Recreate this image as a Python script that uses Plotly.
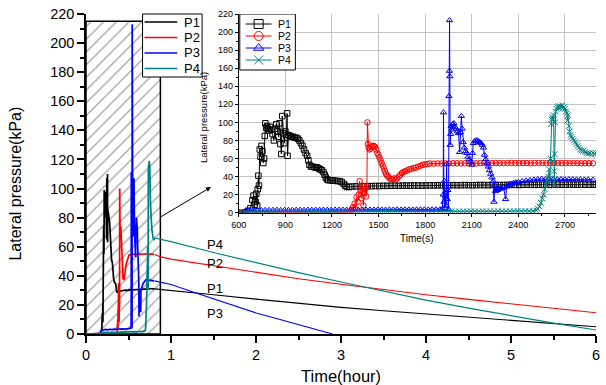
import plotly.graph_objects as go

# ---- monitoring records, time in seconds, lateral pressure in kPa ----
P1_REC = [
    (0, 0), (600, 0), (640, 0.5), (660, 2), (675, 5), (688, 14), (695, 19), (702, 9), (708, 12),
    (713, 21), (718, 8), (722, 26), (726, 41), (730, 30), (735, 70), (740, 62), (746, 74), (752, 68),
    (758, 55), (763, 60), (767, 85), (771, 99), (776, 94), (782, 96), (788, 93), (795, 91), (802, 95),
    (810, 92), (818, 87), (826, 80), (834, 93), (842, 98), (850, 90), (856, 84), (862, 99), (868, 76),
    (874, 65), (880, 107), (886, 88), (893, 77), (900, 90), (906, 86), (911, 110), (914, 63), (920, 86),
    (930, 85), (940, 84), (950, 84), (960, 83), (970, 83), (980, 82), (990, 80), (1000, 77), (1010, 74),
    (1020, 70), (1030, 66), (1040, 63), (1048, 58), (1055, 53), (1065, 51), (1075, 51), (1085, 50.5),
    (1095, 50), (1105, 50), (1115, 49), (1125, 48), (1135, 47), (1145, 45), (1153, 42), (1160, 39),
    (1168, 37), (1176, 36), (1190, 36), (1205, 35.5), (1220, 35.5), (1235, 35), (1250, 35), (1262, 34),
    (1275, 32), (1285, 30), (1295, 28.5), (1310, 28.5), (1330, 29.0), (1355, 29.2), (1380, 29.0),
    (1405, 29.3), (1430, 29.5), (1455, 29.4), (1480, 29.6), (1505, 29.5), (1530, 29.8), (1555, 29.7),
    (1580, 29.9), (1605, 30.0), (1630, 29.8), (1655, 30.0), (1680, 30.1), (1705, 30.0), (1730, 30.2),
    (1755, 30.1), (1780, 30.0), (1805, 30.2), (1830, 30.3), (1855, 30.2), (1880, 30.4), (1905, 30.3),
    (1930, 30.2), (1955, 30.4), (1980, 30.5), (2005, 30.4), (2030, 30.5), (2055, 30.6), (2080, 30.5),
    (2105, 30.4), (2130, 30.6), (2155, 30.7), (2180, 30.6), (2205, 30.5), (2230, 30.7), (2255, 30.8),
    (2280, 30.6), (2305, 30.7), (2330, 30.8), (2355, 30.9), (2380, 30.8), (2405, 30.7), (2430, 30.9),
    (2455, 31.0), (2480, 30.9), (2505, 30.8), (2530, 31.0), (2555, 31.1), (2580, 31.0), (2605, 30.9),
    (2630, 31.1), (2655, 31.2), (2680, 31.0), (2705, 31.1), (2730, 31.2), (2755, 31.1), (2780, 31.0),
    (2805, 31.2), (2830, 31.1), (2855, 31.0), (2880, 31.1), (2900, 31.0),
]

P2_REC = [
    (0, 0), (600, 0), (1300, 0), (1325, 3), (1335, 6), (1345, 10), (1352, 4), (1358, 17), (1365, 12),
    (1372, 20), (1378, 35), (1384, 24), (1390, 16), (1396, 30), (1402, 8), (1408, 22), (1414, 26),
    (1420, 18), (1425, 29), (1428, 100), (1431, 76), (1436, 72), (1442, 70), (1448, 71), (1455, 73),
    (1462, 74), (1470, 74), (1478, 73), (1485, 70), (1492, 66), (1499, 64), (1506, 61), (1513, 58),
    (1520, 55), (1527, 52), (1534, 49), (1541, 46), (1548, 43), (1555, 41), (1562, 40), (1570, 38),
    (1580, 37.5), (1590, 37), (1600, 38), (1610, 37), (1620, 38), (1630, 40), (1640, 42), (1650, 44),
    (1660, 45), (1672, 46), (1685, 47), (1698, 48), (1712, 48.5), (1726, 49.5), (1740, 50), (1755, 51),
    (1770, 52), (1785, 53), (1800, 53.5), (1815, 54), (1830, 54.5), (1855, 54.3), (1880, 54.6),
    (1905, 54.5), (1930, 54.7), (1955, 54.6), (1980, 54.8), (2005, 54.7), (2030, 54.6), (2055, 54.8),
    (2080, 54.9), (2105, 54.7), (2130, 54.8), (2155, 54.9), (2180, 55.0), (2205, 54.8), (2230, 54.9),
    (2255, 55.0), (2280, 54.9), (2305, 54.8), (2330, 55.0), (2355, 55.1), (2380, 54.9), (2405, 55.0),
    (2430, 55.1), (2455, 55.0), (2480, 54.9), (2505, 55.0), (2530, 55.1), (2555, 55.0), (2580, 54.9),
    (2605, 55.0), (2630, 55.1), (2655, 55.0), (2680, 54.9), (2705, 55.0), (2730, 54.9), (2755, 55.0),
    (2780, 54.9), (2805, 54.8), (2830, 54.9), (2855, 54.8), (2880, 54.7),
]

P3_REC = [
    (0, 0), (600, 0), (645, 2.5), (670, 2.8), (695, 2.7), (720, 2.9), (745, 2.8), (770, 3.0), (795, 2.9),
    (820, 3.0), (845, 3.1), (870, 2.9), (895, 3.0), (920, 3.1), (945, 3.0), (970, 3.2), (995, 3.1),
    (1020, 3.0), (1045, 3.2), (1070, 3.1), (1095, 3.2), (1120, 3.1), (1145, 3.3), (1170, 3.2),
    (1195, 3.1), (1220, 3.3), (1245, 3.2), (1270, 3.3), (1295, 3.2), (1320, 3.4), (1345, 3.3),
    (1370, 3.2), (1395, 3.4), (1420, 3.3), (1445, 3.4), (1470, 3.3), (1495, 3.5), (1520, 3.4),
    (1545, 3.3), (1570, 3.5), (1595, 3.4), (1620, 3.5), (1645, 3.4), (1670, 3.6), (1695, 3.5),
    (1720, 3.4), (1745, 3.6), (1770, 3.5), (1795, 3.6), (1820, 3.5), (1845, 3.7), (1870, 3.6),
    (1895, 3.7), (1910, 4), (1916, 20), (1918, 111), (1921, 12), (1924, 35), (1927, 5), (1930, 19),
    (1934, 8), (1938, 54), (1942, 15), (1946, 25), (1950, 4), (1953, 129), (1956, 157), (1957, 213),
    (1959, 151), (1961, 75), (1964, 87), (1968, 96), (1972, 92), (1978, 98), (1985, 99), (1992, 95),
    (2000, 93), (2008, 90), (2015, 88), (2022, 67), (2027, 89), (2033, 107), (2038, 93), (2045, 78),
    (2052, 72), (2060, 68), (2068, 66), (2076, 62), (2084, 59), (2092, 56), (2100, 53), (2105, 66),
    (2110, 77), (2118, 79), (2126, 80), (2135, 80), (2143, 79), (2152, 78), (2160, 77), (2168, 75),
    (2175, 72), (2182, 64), (2190, 59), (2198, 55), (2206, 51), (2214, 47), (2222, 43), (2230, 39),
    (2238, 35), (2243, 12), (2248, 30), (2253, 24), (2258, 26), (2265, 25), (2275, 26), (2285, 27),
    (2295, 27), (2305, 28), (2318, 15), (2325, 29), (2335, 30), (2345, 31), (2355, 32), (2370, 33),
    (2385, 33.5), (2400, 34), (2425, 35), (2450, 35.5), (2475, 36), (2500, 36.5), (2525, 37),
    (2550, 37.5), (2575, 37.0), (2600, 37.2), (2625, 37.0), (2650, 36.9), (2675, 37.1), (2700, 36.8),
    (2725, 37.0), (2750, 36.9), (2775, 36.7), (2800, 36.8), (2825, 36.6), (2850, 36.7), (2880, 36.5),
]

P4_REC = [
    (0, 0), (600, 0), (645, 0.8), (670, 1.0), (695, 0.9), (720, 1.0), (745, 1.1), (770, 0.9),
    (795, 1.0), (820, 1.1), (845, 1.0), (870, 1.1), (895, 1.0), (920, 1.2), (945, 1.1), (970, 1.0),
    (995, 1.2), (1020, 1.1), (1045, 1.2), (1070, 1.1), (1095, 1.2), (1120, 1.0), (1145, 1.2),
    (1170, 1.1), (1195, 1.3), (1220, 1.2), (1245, 1.1), (1270, 1.3), (1295, 1.2), (1320, 1.3),
    (1345, 1.2), (1370, 1.3), (1395, 1.2), (1420, 1.4), (1445, 1.3), (1470, 1.2), (1495, 1.4),
    (1520, 1.3), (1545, 1.4), (1570, 1.3), (1595, 1.4), (1620, 1.3), (1645, 1.5), (1670, 1.4),
    (1695, 1.3), (1720, 1.5), (1745, 1.4), (1770, 1.5), (1795, 1.4), (1820, 1.5), (1845, 1.4),
    (1870, 1.6), (1895, 1.5), (1920, 1.4), (1945, 1.6), (1970, 1.5), (1995, 1.6), (2020, 1.5),
    (2045, 1.6), (2070, 1.5), (2095, 1.7), (2120, 1.6), (2145, 1.5), (2170, 1.7), (2195, 1.6),
    (2220, 1.7), (2245, 1.6), (2270, 1.8), (2295, 1.7), (2320, 1.6), (2345, 1.8), (2370, 1.7),
    (2395, 1.8), (2420, 1.7), (2445, 1.9), (2470, 1.8), (2495, 2.0), (2515, 2.5), (2525, 4.5),
    (2535, 7), (2545, 11), (2555, 16), (2562, 20), (2570, 26), (2578, 30), (2585, 35), (2592, 40),
    (2598, 48), (2603, 38), (2607, 60), (2611, 98), (2615, 103), (2619, 106), (2623, 104), (2627, 108),
    (2630, 46), (2632, 30), (2634, 65), (2637, 100), (2641, 112), (2646, 115), (2652, 117), (2658, 118),
    (2664, 116), (2670, 118), (2676, 117), (2682, 119), (2688, 116), (2694, 117), (2700, 115),
    (2706, 112), (2712, 110), (2716, 102), (2720, 108), (2725, 96), (2730, 90), (2736, 86), (2742, 84),
    (2750, 82), (2758, 80), (2766, 78), (2774, 76), (2782, 74), (2790, 72), (2798, 70), (2806, 69),
    (2814, 68), (2822, 69), (2830, 67), (2840, 66), (2850, 65.5), (2860, 66), (2870, 64.5), (2880, 66),
    (2890, 65), (2900, 66),
]

# ---- long-term dissipation, time in hours, lateral pressure in kPa ----
P1_DECAY_H = [0.806, 1.0, 1.5, 2.0, 2.5, 3.0, 3.5, 4.0, 4.5, 5.0, 5.5, 6.0]
P1_DECAY_V = [31, 30, 27, 24, 21, 18.3, 16, 13.7, 11.4, 9.2, 7, 5]
P2_DECAY_H = [0.806, 0.88, 1.0, 1.5, 2.0, 2.5, 3.0, 3.5, 4.0, 4.5, 5.0, 5.5, 6.0]
P2_DECAY_V = [54.7, 53, 51.5, 47, 42.5, 38, 34.2, 30.5, 27, 23.8, 20.6, 17.6, 14.6]
P3_DECAY_H = [0.806, 0.95, 1.0, 1.25, 1.5, 1.75, 2.0, 2.25, 2.5, 2.75, 2.9]
P3_DECAY_V = [36.5, 35, 34, 29, 24, 19, 14.5, 10.5, 6.5, 2.5, 0]
P4_DECAY_H = [0.806, 0.88, 1.0, 1.5, 2.0, 2.5, 3.0, 3.5, 4.0, 4.5, 5.0, 5.5, 6.0]
P4_DECAY_V = [66, 65, 63.5, 56, 49, 42.2, 35.8, 29.6, 23.3, 17.8, 12.5, 7.5, 2.7]

NAMES = ["P1", "P2", "P3", "P4"]
COLORS = ["#000000", "#ff0000", "#0000ff", "#008080"]
SYMBOLS = ["square-open", "circle-open", "triangle-up-open", "x-thin-open"]
RECORDS = [P1_REC, P2_REC, P3_REC, P4_REC]
DECAY = [(P1_DECAY_H, P1_DECAY_V), (P2_DECAY_H, P2_DECAY_V),
         (P3_DECAY_H, P3_DECAY_V), (P4_DECAY_H, P4_DECAY_V)]

# enlarged window (hours, kPa) shown in the inset
WIN_H = 0.875
WIN_KPA = 215

# curve labels on the dissipation part (hours, kPa)
LABEL_X = 1.52
LABEL_Y = {"P4": 61.5, "P2": 48.6, "P1": 31, "P3": 14.2}

FONT = "Liberation Sans, Arial, sans-serif"

# ---- page geometry (pixels) ----
W, H = 606, 385
ML, MR, MT, MB = 86, 6, 14, 51
PW, PH = W - ML - MR, H - MT - MB
INSET_X = (0.2996, 1.0)
INSET_Y = (0.379, 1.0)
X2_RANGE = (600, 2900)
Y2_RANGE = (0, 220)


def paper_x(px):
    return (px - ML) / PW


def paper_y(py):
    return (H - MB - py) / PH


def inset_x(px):
    x0 = ML + INSET_X[0] * PW
    x1 = ML + INSET_X[1] * PW
    return X2_RANGE[0] + (px - x0) / (x1 - x0) * (X2_RANGE[1] - X2_RANGE[0])


def inset_y(py):
    y0 = H - MB - INSET_Y[0] * PH
    y1 = H - MB - INSET_Y[1] * PH
    return Y2_RANGE[0] + (y0 - py) / (y0 - y1) * (Y2_RANGE[1] - Y2_RANGE[0])


fig = go.Figure()

# hatched zoom window
fig.add_trace(go.Scatter(
    x=[0, WIN_H, WIN_H, 0, 0], y=[0, 0, WIN_KPA, WIN_KPA, 0],
    mode="lines", fill="toself", fillcolor="white",
    fillpattern=dict(shape="/", fgcolor="#444444", bgcolor="white", size=9, solidity=0.14),
    line=dict(color="black", width=1.5), showlegend=False, hoverinfo="skip",
))

# main panel: full records in hours
for name, color, rec, (dh, dv) in zip(NAMES, COLORS, RECORDS, DECAY):
    t = [p[0] / 3600.0 for p in rec]
    v = [p[1] for p in rec]
    fig.add_trace(go.Scatter(x=t, y=v, mode="lines", name=name, showlegend=False,
                             line=dict(color=color, width=1.7)))
    fig.add_trace(go.Scatter(x=dh, y=dv, mode="lines", name=name, showlegend=False,
                             line=dict(color=color, width=1.1)))

# inset: early records in seconds
for name, color, sym, rec in zip(NAMES, COLORS, SYMBOLS, RECORDS):
    t = [p[0] for p in rec]
    v = [p[1] for p in rec]
    fig.add_trace(go.Scatter(
        x=t, y=v, mode="lines+markers", name=name, showlegend=False,
        xaxis="x2", yaxis="y2", cliponaxis=True,
        line=dict(color=color, width=1),
        marker=dict(symbol=sym, size=5.5, color=color, line=dict(color=color, width=1)),
    ))

shapes = []
annotations = []

# ---- legend of the main panel ----
MAIN_LEG_BOX = (143, 14, 203, 77)
MAIN_LEG_ROWS = [22, 37.5, 53, 68.5]
MAIN_LEG_LINE = (145, 178)
MAIN_LEG_TEXT_X = 183
shapes.append(dict(type="rect", xref="paper", yref="paper", layer="above",
                   x0=paper_x(MAIN_LEG_BOX[0]), x1=paper_x(MAIN_LEG_BOX[2]),
                   y0=paper_y(MAIN_LEG_BOX[3]), y1=paper_y(MAIN_LEG_BOX[1]),
                   fillcolor="white", line=dict(color="black", width=1)))
for name, color, row in zip(NAMES, COLORS, MAIN_LEG_ROWS):
    shapes.append(dict(type="line", xref="paper", yref="paper", layer="above",
                       x0=paper_x(MAIN_LEG_LINE[0]), x1=paper_x(MAIN_LEG_LINE[1]),
                       y0=paper_y(row), y1=paper_y(row), line=dict(color=color, width=1.6)))
    annotations.append(dict(text=name, xref="paper", yref="paper", x=paper_x(MAIN_LEG_TEXT_X),
                            y=paper_y(row), xanchor="left", yanchor="middle", showarrow=False,
                            font=dict(size=13)))

# ---- legend of the inset ----
INS_LEG_BOX = (241, 14, 297, 70)
INS_LEG_ROWS = [24, 36, 48, 60]
INS_LEG_LINE = (247, 273)
INS_LEG_TEXT_X = 277
shapes.append(dict(type="rect", xref="x2", yref="y2", layer="between",
                   x0=inset_x(INS_LEG_BOX[0]), x1=inset_x(INS_LEG_BOX[2]),
                   y0=inset_y(INS_LEG_BOX[3]), y1=inset_y(INS_LEG_BOX[1]),
                   fillcolor="white", line=dict(color="black", width=1)))
for name, color, sym, row in zip(NAMES, COLORS, SYMBOLS, INS_LEG_ROWS):
    shapes.append(dict(type="line", xref="x2", yref="y2", layer="between",
                       x0=inset_x(INS_LEG_LINE[0]), x1=inset_x(INS_LEG_LINE[1]),
                       y0=inset_y(row), y1=inset_y(row), line=dict(color=color, width=1)))
    fig.add_trace(go.Scatter(
        x=[inset_x((INS_LEG_LINE[0] + INS_LEG_LINE[1]) / 2)], y=[inset_y(row)],
        mode="markers", xaxis="x2", yaxis="y2", showlegend=False, hoverinfo="skip",
        cliponaxis=False,
        marker=dict(symbol=sym, size=9, color=color, line=dict(color=color, width=1)),
    ))
    annotations.append(dict(text=name, xref="paper", yref="paper", x=paper_x(INS_LEG_TEXT_X),
                            y=paper_y(row), xanchor="left", yanchor="middle", showarrow=False,
                            font=dict(size=10.5)))

axis_common = dict(showline=True, linecolor="black", zeroline=False, ticks="outside",
                   tickcolor="black", color="black")

fig.update_layout(
    width=W, height=H,
    margin=dict(l=ML, r=MR, t=MT, b=MB),
    paper_bgcolor="white", plot_bgcolor="white",
    showlegend=False,
    font=dict(family=FONT, color="black"),
    xaxis=dict(**axis_common, domain=[0, 1], anchor="y", range=[0, 6], tick0=0, dtick=1,
               showgrid=False, linewidth=1.5, ticklen=7, tickwidth=1.5,
               tickfont=dict(size=14.5),
               minor=dict(ticks="outside", dtick=0.5, ticklen=4, tickwidth=1.5, tickcolor="black")),
    yaxis=dict(**axis_common, domain=[0, 1], anchor="x", range=[0, 220], tick0=0, dtick=20,
               showgrid=False, linewidth=1.5, ticklen=7, tickwidth=1.5,
               tickfont=dict(size=14.5),
               minor=dict(ticks="outside", dtick=10, ticklen=4, tickwidth=1.5, tickcolor="black")),
    xaxis2=dict(**axis_common, domain=list(INSET_X), anchor="y2", range=list(X2_RANGE),
                tick0=600, dtick=300, showgrid=True, gridcolor="#c3c3c3", gridwidth=1,
                linewidth=1, ticklen=3, tickwidth=1, tickfont=dict(size=9),
                minor=dict(ticks="outside", dtick=150, ticklen=2, tickcolor="black")),
    yaxis2=dict(**axis_common, domain=list(INSET_Y), anchor="x2", range=list(Y2_RANGE),
                tick0=0, dtick=20, showgrid=True, gridcolor="#c3c3c3", gridwidth=1,
                linewidth=1, ticklen=3, tickwidth=1, tickfont=dict(size=9),
                minor=dict(ticks="outside", dtick=10, ticklen=2, tickcolor="black")),
)

annotations += [
    dict(text="Lateral pressure(kPa)", xref="paper", yref="paper", x=paper_x(14), y=paper_y(184),
         xanchor="center", yanchor="middle", textangle=-90, showarrow=False, font=dict(size=16)),
    dict(text="Time(hour)", xref="paper", yref="paper", x=paper_x(343), y=paper_y(376),
         xanchor="center", yanchor="middle", showarrow=False, font=dict(size=16.5)),
    dict(text="Time(s)", xref="paper", yref="paper", x=paper_x(420), y=paper_y(238),
         xanchor="center", yanchor="middle", showarrow=False, font=dict(size=10)),
    dict(text="Lateral pressure(kPa)", xref="paper", yref="paper", x=paper_x(205), y=paper_y(118),
         xanchor="center", yanchor="middle", textangle=-90, showarrow=False, font=dict(size=9.5)),
    dict(text="", x=1.47, y=101, ax=0.864, ay=80, xref="x", yref="y", axref="x", ayref="y",
         showarrow=True, arrowhead=2, arrowsize=1, arrowwidth=1, arrowcolor="black"),
]
for name in NAMES:
    annotations.append(dict(text=name, x=LABEL_X, y=LABEL_Y[name], xref="x", yref="y",
                            xanchor="center", yanchor="middle", showarrow=False,
                            font=dict(size=13)))
fig.update_layout(shapes=shapes, annotations=annotations)

fig.write_html("out.html")
